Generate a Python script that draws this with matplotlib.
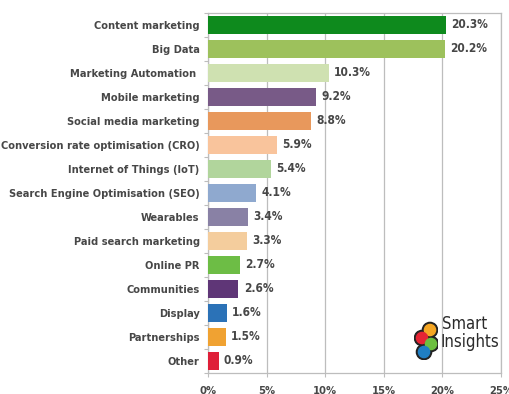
import numpy as np
import matplotlib.pyplot as plt
from matplotlib.patches import Circle

categories = ["Content marketing", "Big Data", "Marketing Automation ",
              "Mobile marketing", "Social media marketing",
              "Conversion rate optimisation (CRO)", "Internet of Things (IoT)",
              "Search Engine Optimisation (SEO)", "Wearables",
              "Paid search marketing", "Online PR", "Communities",
              "Display", "Partnerships", "Other"]
values = [20.3, 20.2, 10.3, 9.2, 8.8, 5.9, 5.4, 4.1, 3.4, 3.3, 2.7, 2.6,
          1.6, 1.5, 0.9]
colors = ["#0e8a1d", "#9dc15c", "#cfe1b1", "#785a87", "#e8985c", "#f9c49c",
          "#b1d59c", "#8fa9cf", "#8981a5", "#f4cd9d", "#6dbd45", "#5f3677",
          "#2b72b7", "#f0a232", "#df1f38"]
xticks = [0, 5, 10, 15, 20, 25]
xticklabels = ["0%", "5%", "10%", "15%", "20%", "25%"]

font = dict(family="DejaVu Sans", stretch="condensed", weight="bold")
txt = "#474747"
grid = "#bdbdbd"

fig = plt.figure(figsize=(5.09, 3.94), dpi=100)
ax = fig.add_axes([208/509, 1 - 373/394, 293/509, 360/394])

ypos = np.arange(len(categories))
ax.barh(ypos, values, height=0.73, color=colors, zorder=3)
for y, v in zip(ypos, values):
    ax.text(v + 0.45, y, "{}%".format(v), va="center", ha="left",
            fontsize=8.6, color=txt, **font)

ax.set_xlim(0, 25)
ax.set_ylim(14.46, -0.46)
ax.set_xticks(xticks)
ax.set_xticklabels(xticklabels, fontsize=8, color=txt, **font)
ax.set_yticks(ypos)
ax.set_yticklabels(categories, fontsize=7.9, color=txt, **font)
ax.set_yticks(np.arange(-0.5, 15, 1), minor=True)
ax.tick_params(axis="y", which="major", length=0, pad=6)
ax.tick_params(axis="y", which="minor", length=3, color=grid, width=0.8)
ax.tick_params(axis="x", length=3, color=grid, width=0.8, pad=6)
ax.xaxis.grid(True, color=grid, linewidth=0.9, zorder=0)
for s in ax.spines.values():
    s.set_color(grid)
    s.set_linewidth(0.9)

# logo in the lower right corner
lax = fig.add_axes([414/509, 1 - 360/394, 24/509, 40/394])
lax.set_xlim(0, 24)
lax.set_ylim(0, 40)
lax.set_aspect("equal")
lax.axis("off")
dots = [(16, 30, "#f5a623"), (8, 22, "#e52434"),
        (17, 16, "#6cbf3f"), (10, 8, "#1f7fc4")]
for (cx, cy, c) in dots:
    lax.add_patch(Circle((cx, cy), 7.6, color="#222222", zorder=1))
for (cx, cy, c) in dots:
    lax.add_patch(Circle((cx, cy), 5.6, color=c, zorder=2))
fig.text(442/509, 1 - 324/394, "Smart", fontsize=12, family="DejaVu Sans",
         stretch="condensed", color="#2b2b2b", va="center", ha="left")
fig.text(441/509, 1 - 342/394, "Insights", fontsize=12, family="DejaVu Sans",
         stretch="condensed", color="#2b2b2b", va="center", ha="left")

fig.savefig("out.png", dpi=100)
